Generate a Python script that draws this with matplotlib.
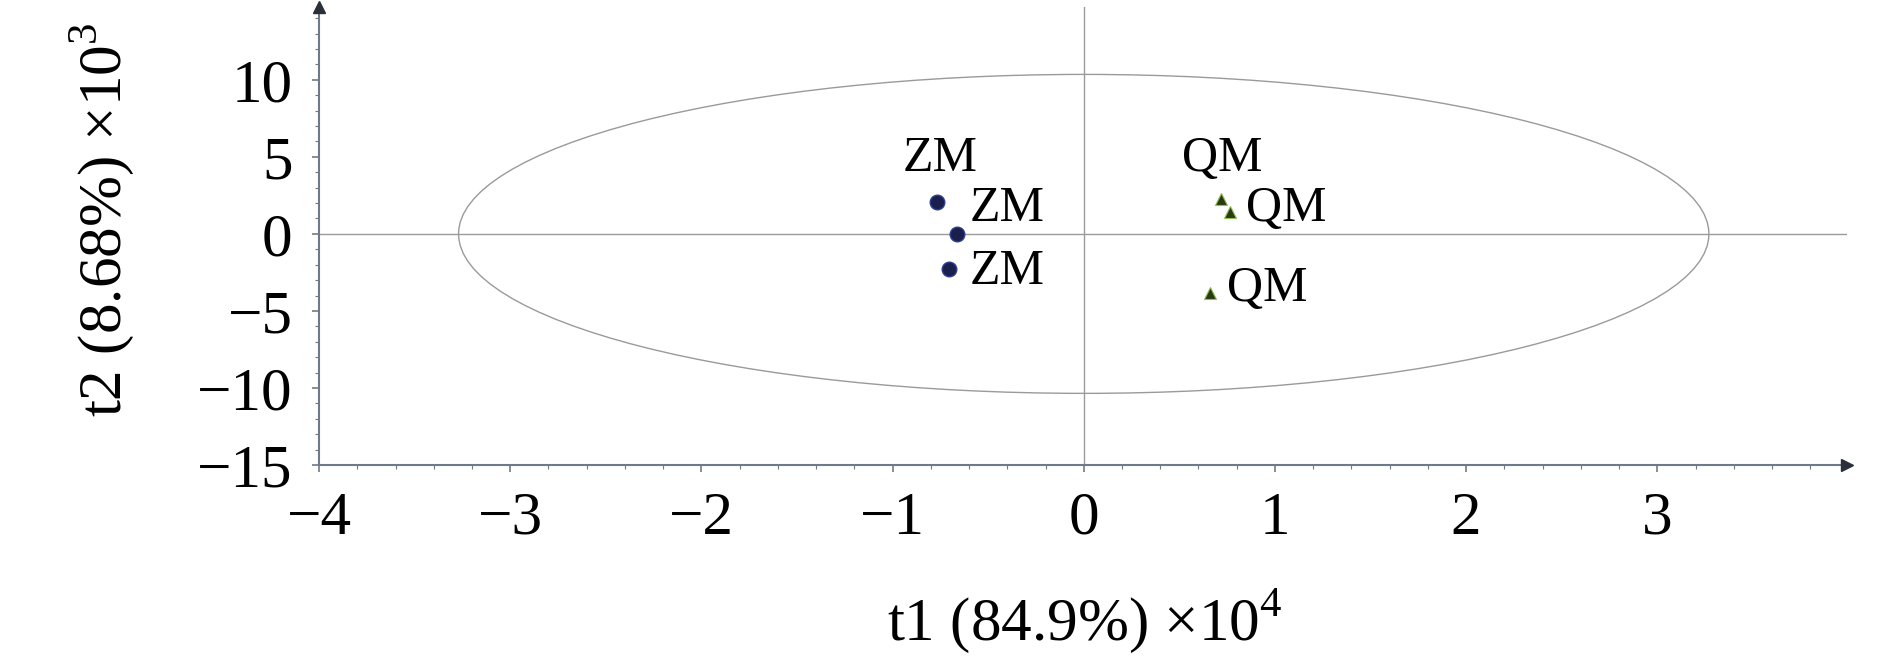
#!/usr/bin/env python3
import matplotlib
matplotlib.use("Agg")
import matplotlib.pyplot as plt
from matplotlib.patches import Ellipse
from matplotlib.ticker import MultipleLocator

# PCA scores (t1 in 1e4, t2 in 1e3)
zm_t1 = [-0.77, -0.665, -0.705]
zm_t2 = [2.1, 0.0, -2.25]
qm_t1 = [0.72, 0.765, 0.66]
qm_t2 = [2.27, 1.42, -3.84]
zm_names = ["ZM", "ZM", "ZM"]
qm_names = ["QM", "QM", "QM"]

# Hotelling T2 ellipse semi-axes
ell_a = 3.27
ell_b = 10.35

x_ticks = [-4, -3, -2, -1, 0, 1, 2, 3]
y_ticks = [10, 5, 0, -5, -10, -15]

plt.rcParams['font.family'] = ['Liberation Serif', 'DejaVu Serif']
plt.rcParams['mathtext.fontset'] = 'custom'
plt.rcParams['mathtext.rm'] = 'Liberation Serif'

axis_col = '#6f7a88'
line_col = '#9a9a9a'


def main():
    fig = plt.figure(figsize=(18.9, 6.61), dpi=100)
    ax = fig.add_axes([0.1688, 0.2965, 0.8082, 0.6935])

    ax.set_xlim(-4, 3.99)
    ax.set_ylim(-15, 14.75)

    ax.axhline(0, color=line_col, lw=1.0, zorder=1)
    ax.axvline(0, color=line_col, lw=1.0, zorder=1)
    ax.add_patch(Ellipse((0, 0), 2 * ell_a, 2 * ell_b, fill=False,
                         ec=line_col, lw=1.0, zorder=1))

    ax.plot(zm_t1, zm_t2, 'o', ms=10.5, mfc='#1b1f4d', mec='#2c3f8f',
            mew=1.0, ls='none', zorder=3)
    ax.plot(qm_t1, qm_t2, '^', ms=8, mfc='#2b3a12', mec='#8cc152',
            mew=0.8, ls='none', zorder=3)

    zm_off = [(4, 43), (51, 25), (58, -3)]
    qm_off = [(1, 40), (56, 3), (57, 4)]
    for x, y, name, off in zip(zm_t1, zm_t2, zm_names, zm_off):
        ax.annotate(name, (x, y), xytext=off, textcoords='offset pixels',
                    ha='center', va='center', fontsize=36)
    for x, y, name, off in zip(qm_t1, qm_t2, qm_names, qm_off):
        ax.annotate(name, (x, y), xytext=off, textcoords='offset pixels',
                    ha='center', va='center', fontsize=36)

    for s in ['top', 'right']:
        ax.spines[s].set_visible(False)
    for s in ['left', 'bottom']:
        ax.spines[s].set_color(axis_col)
        ax.spines[s].set_linewidth(1.5)

    ax.set_xticks(x_ticks)
    ax.set_yticks(y_ticks)
    ax.xaxis.set_minor_locator(MultipleLocator(0.2))
    ax.yaxis.set_minor_locator(MultipleLocator(1))
    ax.tick_params(which='major', length=5, width=1.2, color=axis_col,
                   labelsize=44, pad=14)
    ax.tick_params(which='minor', length=3, width=0.8, color=axis_col)

    # arrow heads at the axis ends
    ax.plot(1, 0, '>', ms=9, color='#2a2f3a', transform=ax.transAxes,
            clip_on=False, zorder=5)
    ax.plot(0, 1, '^', ms=9, color='#2a2f3a', transform=ax.transAxes,
            clip_on=False, zorder=5)

    fig.text(0.574, 0.06, r't1 (84.9%) $\times$10$^{4}$', ha='center',
             va='center', fontsize=44)
    fig.text(0.054, 0.667, r't2 (8.68%) $\times$10$^{3}$', ha='center',
             va='center', rotation=90, fontsize=44)

    fig.savefig('out.png', dpi=100)


if __name__ == '__main__':
    main()
